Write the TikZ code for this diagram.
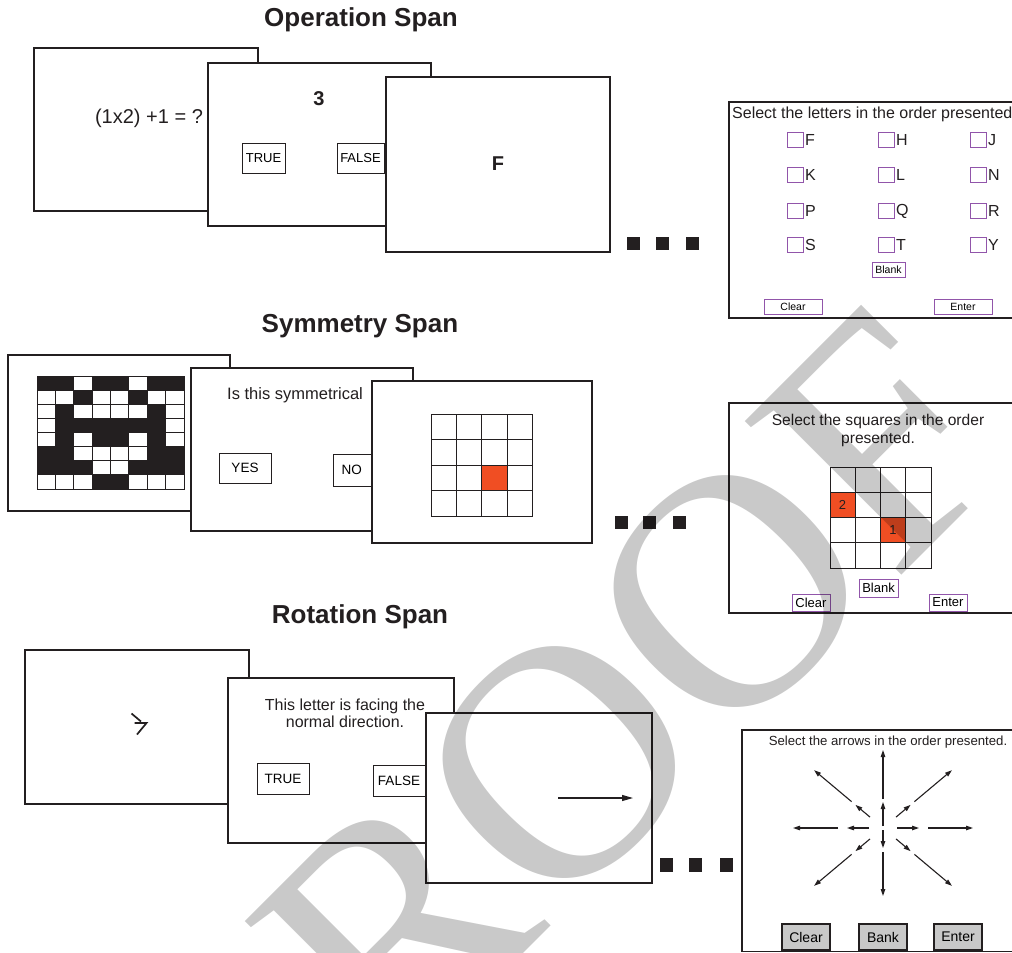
\documentclass[tikz,border=0pt]{standalone}
\usepackage{fontspec}
\setmainfont{Liberation Sans}
\newfontfamily\wmfont{Liberation Serif}
\usetikzlibrary{arrows.meta}
\definecolor{frm}{RGB}{35,31,32}
\definecolor{pur}{RGB}{145,85,170}
\definecolor{rd}{RGB}{240,78,35}
\definecolor{btngray}{RGB}{200,200,200}
\newcommand{\fsz}[1]{\fontsize{#1}{#1}\selectfont}
\begin{document}
\begin{tikzpicture}[x=1pt,y=-1pt,
  screen/.style={draw=frm, line width=1.7pt, fill=white},
  btn/.style={draw=frm, line width=1pt, fill=white, inner sep=0pt},
  pbtn/.style={draw=pur, line width=1pt, fill=white, inner sep=0pt},
  gbtn/.style={draw=frm, line width=1.1pt, fill=btngray, inner sep=0pt, font=\fsz{14}},
  blk/.style={fill=frm},
  ttl/.style={font=\fsz{26}\bfseries, text=frm},
  txt/.style={text=frm, inner sep=0pt},
  cbox/.style={draw=pur, line width=1pt, fill=white, minimum width=16pt, minimum height=15pt, inner sep=0pt},
  cell/.style={draw=frm, line width=0.8pt},
  arr/.style={frm, line width=1.1pt, -{Triangle[length=7pt,width=4.5pt]}},
  bigarr/.style={frm, line width=1.2pt, -{Triangle[length=11pt,width=6pt]}}]
\useasboundingbox (0,0) rectangle (1012,953);
\fill[white] (0,0) rectangle (1012,953);
\begin{scope}
\clip (0,0) rectangle (1012,953);
% ---------- titles
\node[ttl] (t1) at (361,20) {Operation Span};
\node[ttl] (t2) at (360,326) {Symmetry Span};
\node[ttl] (t3) at (360,617) {Rotation Span};

% ---------- Operation span
\draw[screen] (34,48) rectangle (258,211);
\node[txt, font=\fsz{20}] (eq) at (149,118) {(1x2) +1 = ?};
\draw[screen] (208,63) rectangle (431,226);
\node[txt, font=\fsz{20}\bfseries] (three) at (319,99) {3};
\node[btn, minimum width=43, minimum height=30, font=\fsz{13}] (optrue) at (263.5,158) {TRUE};
\node[btn, minimum width=47, minimum height=30, font=\fsz{13}] (opfalse) at (360.5,158) {FALSE};
\draw[screen] (386,77) rectangle (610,252);
\node[txt, font=\fsz{20}\bfseries] (fl) at (498,164) {F};
\foreach \x in {627,656,686} \fill[blk] (\x,237) rectangle ++(13,13);

% final letters screen
\draw[screen] (729,102) rectangle (1020,318);
\node[txt, font=\fsz{16}, anchor=west] (seltxt) at (732,114) {Select the letters in the order presented};
\foreach \cx/\ry/\l in {787/132/F,878/132/H,970/132/J,787/167/K,878/167/L,970/167/N,787/203/P,878/203/Q,970/203/R,787/237/S,878/237/T,970/237/Y}{
  \node[cbox, anchor=north west] (cb\l) at (\cx,\ry) {};
  \node[txt, font=\fsz{16}, anchor=west] at ([xshift=1pt]cb\l.east) {\l};
}
\node[pbtn, minimum width=33, minimum height=15, font=\fsz{10.5}] (opblank) at (888.5,269.5) {Blank};
\node[pbtn, minimum width=58, minimum height=15, font=\fsz{10.5}] (opclear) at (793,306.5) {Clear};
\node[pbtn, minimum width=58, minimum height=15, font=\fsz{10.5}] (openter) at (963,306.5) {Enter};

% ---------- Symmetry span
\draw[screen] (8,355) rectangle (230,511);
\foreach \row [count=\j from 0] in {
  {1,1,0,1,1,0,1,1},
  {0,0,1,0,0,1,0,0},
  {0,1,0,0,0,0,1,0},
  {0,1,1,1,1,1,1,0},
  {0,1,0,1,1,0,1,0},
  {1,1,0,0,0,0,1,1},
  {1,1,1,0,0,1,1,1},
  {0,0,0,1,1,0,0,0}}{
  \foreach \v [count=\i from 0] in \row {
    \ifnum\v=1
      \filldraw[fill=frm, cell] (37+\i*18.375, 376+\j*14.125) rectangle ++(18.375,14.125);
    \else
      \filldraw[fill=white, cell] (37+\i*18.375, 376+\j*14.125) rectangle ++(18.375,14.125);
    \fi
  }
}
\draw[screen] (191,368) rectangle (413,531);
\node[txt, font=\fsz{16.5}, anchor=west] (symq) at (227,395) {Is this symmetrical};
\node[btn, minimum width=52, minimum height=30, font=\fsz{13.5}] (yes) at (245,468) {YES};
\node[btn, minimum width=57, minimum height=32, font=\fsz{13.5}, text width=40pt] (no) at (361.5,470) {NO};
\draw[screen] (372,381) rectangle (592,543);
\foreach \i in {0,...,3} \foreach \j in {0,...,3}
  \draw[cell] (431+\i*25.3, 414+\j*25.5) rectangle ++(25.3,25.5);
\fill[rd] (481.6,465) rectangle ++(25.3,25.5);
\draw[cell] (481.6,465) rectangle ++(25.3,25.5);
\foreach \x in {615,643,673} \fill[blk] (\x,516) rectangle ++(13,13);

% final squares screen
\draw[screen] (729,403) rectangle (1020,613);
\node[txt, font=\fsz{15.6}, align=center] (sqtxt) at (878,430.5) {Select the squares in the order\\[2pt]presented.};
\fill[rd] (830,492.25) rectangle ++(25.25,25.25);
\fill[rd] (880.5,517.5) rectangle ++(25.25,25.25);
\foreach \i in {0,...,3} \foreach \j in {0,...,3}
  \draw[cell] (830+\i*25.25, 467+\j*25.25) rectangle ++(25.25,25.25);
\node[txt, font=\fsz{13}] (n2) at (842.6,504.9) {2};
\node[txt, font=\fsz{13}] (n1) at (893.1,530.1) {1};
\node[pbtn, minimum width=39, minimum height=18, font=\fsz{13}] (sqblank) at (878.5,588) {Blank};
\node[pbtn, minimum width=38, minimum height=17, font=\fsz{13}] (sqclear) at (811,602.5) {Clear};
\node[pbtn, minimum width=38, minimum height=17, font=\fsz{13}] (sqenter) at (948,602.5) {Enter};

% ---------- Rotation span
\draw[screen] (25,650) rectangle (249,804);
\draw[frm, line width=1.7pt] (131.5,713.5) -- (141,721.5);
\draw[frm, line width=1.7pt] (134.5,723) -- (146.5,723) -- (137,734.5);
\draw[screen] (228,678) rectangle (454,843);
\node[txt, font=\fsz{16}, align=center] (rottxt) at (345,713) {This letter is facing the\\[1pt]normal direction.};
\node[btn, minimum width=52, minimum height=31, font=\fsz{13.5}] (rtrue) at (283,778.5) {TRUE};
\node[btn, minimum width=52, minimum height=31, font=\fsz{13.5}] (rfalse) at (399,780.5) {FALSE};
\draw[screen] (426,713) rectangle (652,883);
\coordinate (ra) at (558,798);
\coordinate (rb) at (633,798);
\draw[bigarr] (ra) -- (rb);
\foreach \x in {660,689,720} \fill[blk] (\x,858) rectangle ++(13,14);

% final arrows screen
\draw[screen] (742,730) rectangle (1020,951.5);
\node[txt, font=\fsz{13.2}] (artxt) at (888,742) {Select the arrows in the order presented.};
\coordinate (rc) at (883,828);
\begin{scope}[shift={(rc)}]
  \foreach \a in {0,180} {
    \draw[arr] (\a:14) -- (\a:36);
    \draw[arr] (\a:45) -- (\a:90);
  }
  \foreach \a in {-40,40,140,220} {
    \draw[arr] (\a:17) -- (\a:36);
    \draw[arr] (\a:41) -- (\a:90);
  }
  \draw[arr] (-90:2) -- (-90:26);
  \draw[arr] (-90:29) -- (-90:78);
  \draw[arr] (90:2) -- (90:20);
  \draw[arr] (90:24) -- (90:68);
\end{scope}
\node[gbtn, minimum width=48, minimum height=26] (aclear) at (806,937) {Clear};
\node[gbtn, minimum width=48, minimum height=26] (abank) at (883,937) {Bank};
\node[gbtn, minimum width=48, minimum height=26] (aenter) at (958,937) {Enter};

% ---------- watermark
\node[text=black, text opacity=0.21, rotate=45, font=\wmfont\fsz{335}, inner sep=0pt] (wm) at (566,756) {PROOF};
\end{scope}
\end{tikzpicture}
\end{document}
